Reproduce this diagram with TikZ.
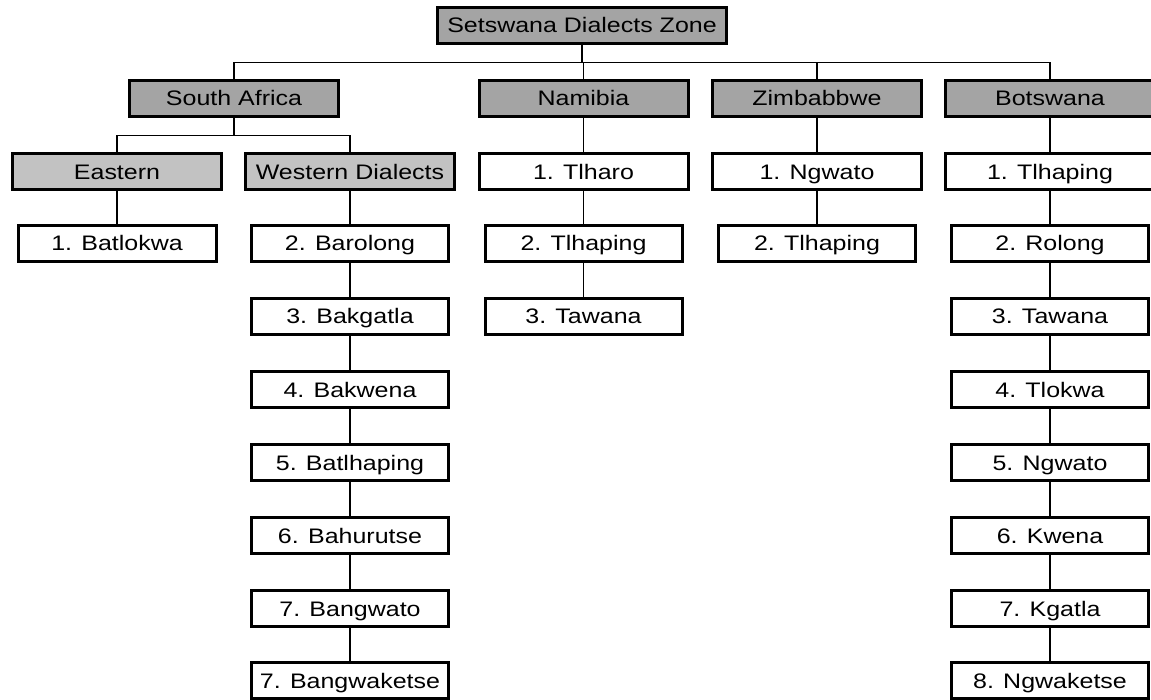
\documentclass[tikz,border=0pt]{standalone}
\usepackage{fontspec}
\setmainfont{Liberation Sans}[FakeStretch=1.19]
\definecolor{gdark}{RGB}{164,164,164}
\definecolor{glight}{RGB}{194,194,194}
\begin{document}
\begin{tikzpicture}[x=1pt,y=-1pt,
  box/.style={draw=black, line width=3pt, minimum height=36pt, inner sep=0pt, text height=19.5pt, text depth=4.5pt, font=\fontsize{21}{24}\selectfont, text=black},
  lvl/.style={box, fill=gdark, minimum width=209pt},
  sub/.style={box, fill=glight, minimum width=209pt},
  firstitem/.style={box, fill=white, minimum width=209pt},
  item/.style={box, fill=white, minimum width=197pt},
  conn/.style={draw=black, line width=1.4pt}]
\clip (0,0) rectangle (1151,700);
\fill[white] (0,0) rectangle (1151,700);
% top
\node[lvl, minimum width=289pt] (top) at (582,25.5) {Setswana Dialects Zone};
% countries
\node[lvl] (sa)  at (234,98.5)  {South Africa};
\node[lvl] (nam) at (583.5,98.5) {Namibia};
\node[lvl] (zim) at (817,98.5)  {Zimbabbwe};
\node[lvl] (bot) at (1050,98.5) {Botswana};
% South Africa
\node[sub] (east) at (117,172) {Eastern};
\node[sub] (west) at (350,172) {Western Dialects};
\node[item, minimum width=198pt] (e1) at (117,243.5) {1. Batlokwa};
\node[item] (w2) at (350,243.5) {2. Barolong};
\node[item] (w3) at (350,316.5) {3. Bakgatla};
\node[item] (w4) at (350,389.5) {4. Bakwena};
\node[item] (w5) at (350,462.5) {5. Batlhaping};
\node[item] (w6) at (350,535.5) {6. Bahurutse};
\node[item] (w7) at (350,608.5) {7. Bangwato};
\node[item] (w8) at (350,680.5) {7. Bangwaketse};
% Namibia
\node[firstitem] (n1) at (583.5,172) {1. Tlharo};
\node[item] (n2) at (583.5,243.5) {2. Tlhaping};
\node[item] (n3) at (583.5,316.5) {3. Tawana};
% Zimbabwe
\node[firstitem] (z1) at (817,172) {1. Ngwato};
\node[item] (z2) at (817,243.5) {2. Tlhaping};
% Botswana
\node[firstitem] (b1) at (1050,172) {1. Tlhaping};
\node[item] (b2) at (1050,243.5) {2. Rolong};
\node[item] (b3) at (1050,316.5) {3. Tawana};
\node[item] (b4) at (1050,389.5) {4. Tlokwa};
\node[item] (b5) at (1050,462.5) {5. Ngwato};
\node[item] (b6) at (1050,535.5) {6. Kwena};
\node[item] (b7) at (1050,608.5) {7. Kgatla};
\node[item] (b8) at (1050,680.5) {8. Ngwaketse};
% connectors
\foreach \c in {sa,nam,zim,bot}
  \draw[conn] (top.south) -- ++(0,17.5) -| (\c.north);
\foreach \c in {east,west}
  \draw[conn] (sa.south) -- ++(0,17.5) -| (\c.north);
\foreach \a/\b in {east/e1, west/w2, w2/w3, w3/w4, w4/w5, w5/w6, w6/w7, w7/w8,
                   nam/n1, n1/n2, n2/n3, zim/z1, z1/z2,
                   bot/b1, b1/b2, b2/b3, b3/b4, b4/b5, b5/b6, b6/b7, b7/b8}
  \draw[conn] (\a.south) -- (\b.north);
\end{tikzpicture}
\end{document}
